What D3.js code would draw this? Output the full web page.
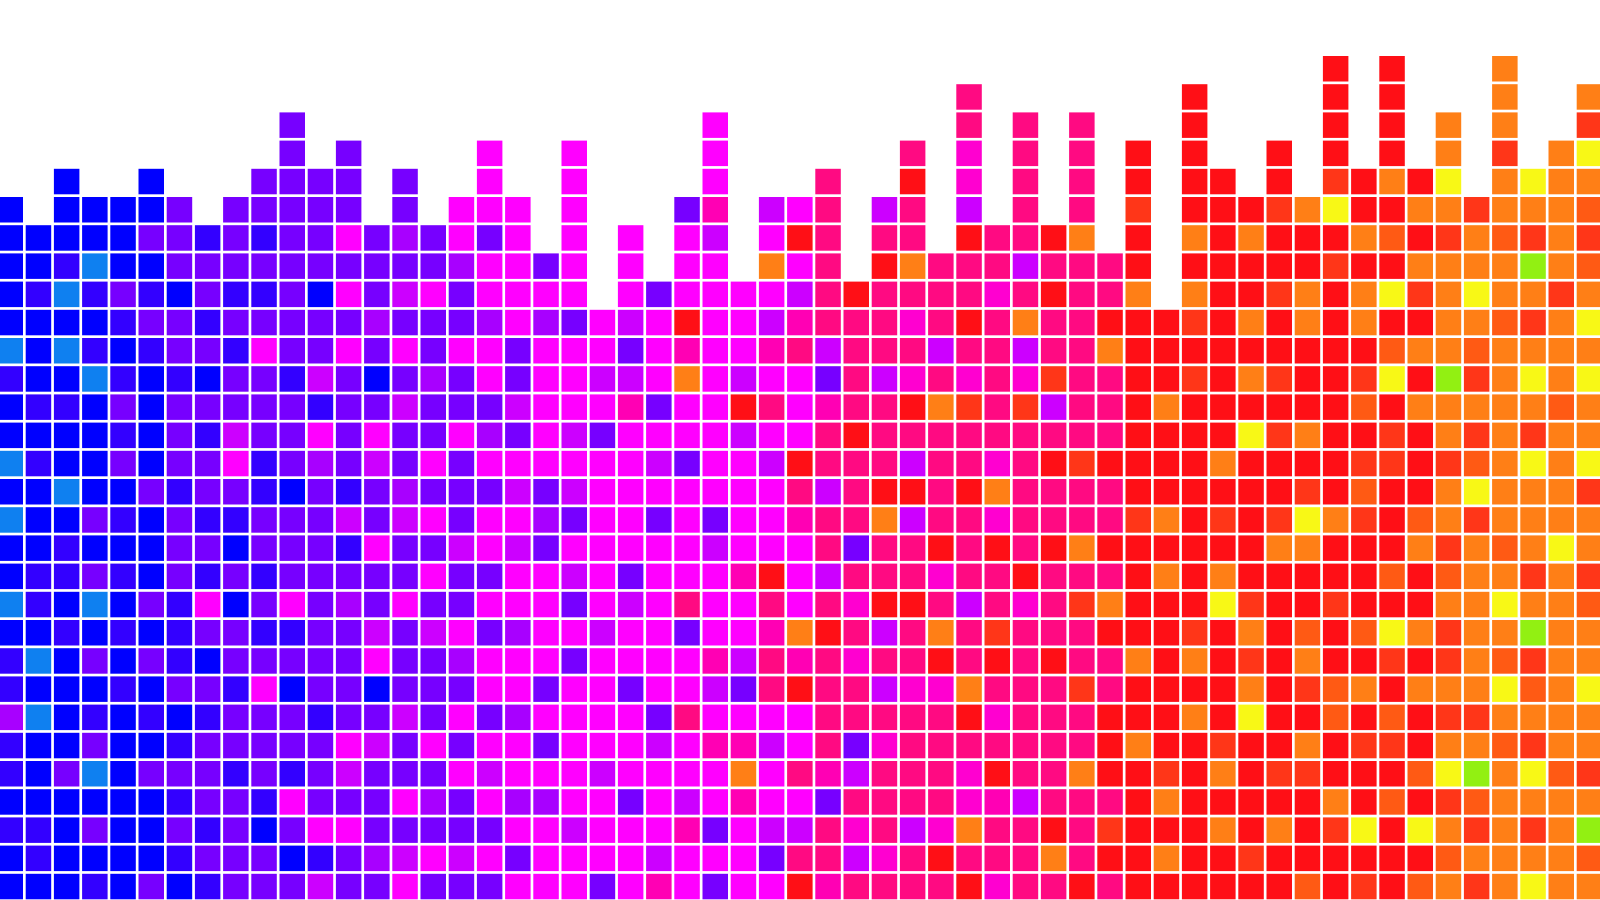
<!DOCTYPE html>
<html>
<head>
<meta charset="utf-8">
<script src="https://d3js.org/d3.v7.min.js"></script>
<style>
html,body{margin:0;padding:0;background:#fff;overflow:hidden}
svg{display:block}
</style>
</head>
<body>
<svg id="chart" width="1600" height="900"></svg>
<script>
const levels = ["b","c","i","v","q","p","m","h","f","k","r","s","n","o","y","g"];
const levelColors = ["#0000ff","#0f80f0","#3300ff","#7700ff","#a800ff","#cc00ff","#ff00ff","#ff00d0","#ff00b4","#ff0a82","#ff0f16","#ff3618","#ff5a14","#ff7f16","#f8f816","#92f012"];
const tileRows = [
"............... ............... .............. ...r.r...o...",
"............... ............... ....k.......r. ...r.r...o..o",
"..........v.... ..........m.... ....k.k.k...r. ...r.r.o.o..s",
"..........v.v.. ..m..m....m.... ..k.h.k.k.r.r. .r.r.r.o.s.oy",
"..b..b...vvvv.v ..m..m....m...k ..r.h.k.k.r.rr .r.srory.oyoo",
"b.bbbbv.vvvvv.v .mmm.m...vf.pmk .pk.p.k.k.s.rr rsoyrroosooon",
"bbbbbvvivivvmvq vmvm.m.m.mp.mrk .kk.rkkro.r.or orrronrsonsos",
"bbicbbvvvvvvvvv vqmmvm.m.mm.omk .rokkkpkkkr.rr rrrsrroooogon",
"bicivibviivbmvp mvmmmm.mvmmmmpk rkkkkhkrkko.or rsoroysoyooso",
"bbbbivvivvvvvqv vvqmqvmpmrmmpfk kkhkrkokkrrrsr orororroonsoy",
"cbcibivvimvvmvm vmmvmmmvmfmmfkp kkkpkkpkkorrrr rrrrrnoonoooo",
"ibbcibibvvipvbv qvmvmmppmompmmv kphkhkhskkrrsr osrrsyrgsoyoy",
"biibvbvvvvvivvp vvvpmmmfvmmrkmf kkroskspkkrorr rrrrnrooooono",
"bbbbibvipvvmvmv vmqvmpvmmmmpmmk rkkkkkkkkkrrrr ysorrsrososoo",
"cibbvbvvmivqvpv mvmmmmmmpvmmprk kkpkkhkrsrrrro rrrrssrsnoyoy",
"bbcbbvivvibvivq vvvpvpmmmmmmmkp krrkrokkkkrrrr rrsrnrroyooos",
"cbbvibviivvvpvp mvmmqvmmvmvmmfk kopkkhkkkksors rsyosrnosoooo",
"bbibbbvvbvvvimv vpmpvmmmmmpmmmk vkkrkrkrorrrrr roorrrosonoyo",
"biivibvivivvvvv mvvmmpmvmmmfrmp kkkhkkrkkkroro rrrrrnrnoosos",
"cibcbvimbvmvqvm vvmmmvmpmkmmkmk hrrkpkhksorrry srrsrrrooyoon",
"bbibibivviivvpv pmvqmmpmmvmmfor kpkokskkkrrrsr ornrnyosoogoo",
"icbvbvibvvvvvmv vqmmmvmmmmfpkfk hkkrkrkrkkoror srorrsrsonsoo",
"ibbbibvvimbvvbv vvmmvmmvmmpvkrk kphhokkkskrrrr orsnoroooynoy",
"qcbibibivvvivvp vmvqmmmmvkmmmmk kkkkrhkkkrrror yrrnrnrssoooo",
"ibbvbbivvvvvmpv mvmmvmmmpmffpmk vhkkkkkkkrorrs rrorssroonsoo",
"ibvcbvvvivivpvv vmpmmmpmmmmomkf pkkkhrkkorrsro rssrrrnygoyns",
"bbbbbbivvimvvvm qvmqqmmvmpmfmmv kkkkhfpkkkrorr rrrornrsnoooo",
"iibvbbvivbvmmvv vvvmmpmmmfvmppk hkphokkrksrrro rorsyryososog",
"bibbbbivvvbivqp mpmvmmmmpmmmvkk phkrkkkokrrorr srrrrrrnoooon",
"bbbibvbivvvpvvm vvvmmmvmfmvmmrf kkkkrhkkrkrrrr rrnrsrnosoyoo"
];

const columnCount = 57, rowCount = tileRows.length;
const gridLeft = -2.5, gridTop = 56, pitch = 28.2, gap = 2.7;

const x = d3.scaleLinear().domain([0, columnCount]).range([gridLeft, gridLeft + pitch * columnCount]);
const y = d3.scaleLinear().domain([0, rowCount]).range([gridTop, gridTop + pitch * rowCount]);
const color = d3.scaleOrdinal().domain(levels).range(levelColors);

const cells = tileRows.flatMap((row, r) =>
  row.replace(/ /g, "").split("").map((level, c) => ({ r, c, level }))
).filter(d => d.level !== ".");

d3.select("#chart").append("g")
  .selectAll("rect")
  .data(cells)
  .join("rect")
  .attr("x", d => x(d.c))
  .attr("y", d => y(d.r))
  .attr("width", x(1) - x(0) - gap)
  .attr("height", y(1) - y(0) - gap)
  .attr("fill", d => color(d.level));
</script>
</body>
</html>
